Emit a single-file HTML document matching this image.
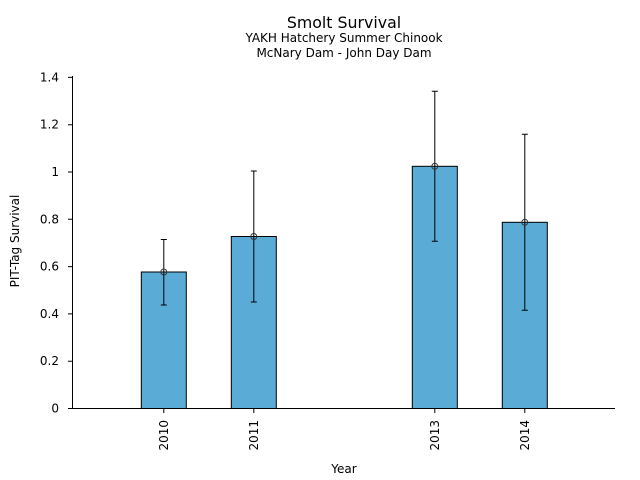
<!DOCTYPE html>
<html><head><meta charset="utf-8"><style>body{margin:0;background:#fff}svg{display:block}text{font-family:"DejaVu Sans",sans-serif;fill:#000}</style></head><body>
<svg width="640" height="480" viewBox="0 0 640 480">
<text x="344" y="28" font-size="15.8" text-anchor="middle">Smolt Survival</text>
<text x="344" y="42" font-size="12" text-anchor="middle">YAKH Hatchery Summer Chinook</text>
<text x="344" y="57" font-size="12" text-anchor="middle">McNary Dam - John Day Dam</text>
<g fill="#5aabd6" stroke="#000" stroke-width="1">
<rect x="141.3" y="272" width="45" height="136.5"/>
<rect x="231.3" y="236.5" width="45" height="172"/>
<rect x="412.3" y="166.3" width="45" height="242.2"/>
<rect x="502.3" y="222.3" width="45" height="186.2"/>
</g>
<g stroke="#000" stroke-width="1" fill="none">
<path d="M163.8 239.5V305M160.8 239.5h6M160.8 305h6"/>
<path d="M253.8 171V302M250.8 171h6M250.8 302h6"/>
<path d="M434.8 91.3V241.3M431.8 91.3h6M431.8 241.3h6"/>
<path d="M524.8 134.3V310.3M521.8 134.3h6M521.8 310.3h6"/>
<circle cx="163.8" cy="272" r="3" stroke="#333"/>
<circle cx="253.8" cy="236.5" r="3" stroke="#333"/>
<circle cx="434.8" cy="166.3" r="3" stroke="#333"/>
<circle cx="524.8" cy="222.3" r="3" stroke="#333"/>
<path d="M72.5 76V408.5H615"/>
<path d="M68 408.5h4.5M68 361.2h4.5M68 313.9h4.5M68 266.6h4.5M68 219.3h4.5M68 172h4.5M68 124.7h4.5M68 77.4h4.5"/>
<path d="M163.8 408.5v4.5M253.8 408.5v4.5M434.8 408.5v4.5M524.8 408.5v4.5"/>
</g>
<g font-size="12" text-anchor="end">
<text x="59" y="412.5">0</text><text x="59" y="365.2">0.2</text><text x="59" y="317.9">0.4</text><text x="59" y="270.6">0.6</text><text x="59" y="223.3">0.8</text><text x="59" y="176">1</text><text x="59" y="128.7">1.2</text><text x="59" y="81.4">1.4</text>
</g>
<g font-size="12" text-anchor="end">
<text transform="translate(168,420) rotate(-90)">2010</text>
<text transform="translate(258,420) rotate(-90)">2011</text>
<text transform="translate(439,420) rotate(-90)">2013</text>
<text transform="translate(529,420) rotate(-90)">2014</text>
</g>
<text x="344" y="473" font-size="12" text-anchor="middle">Year</text>
<text transform="translate(19,241) rotate(-90)" font-size="12" text-anchor="middle">PIT-Tag Survival</text>
</svg>
</body></html>
